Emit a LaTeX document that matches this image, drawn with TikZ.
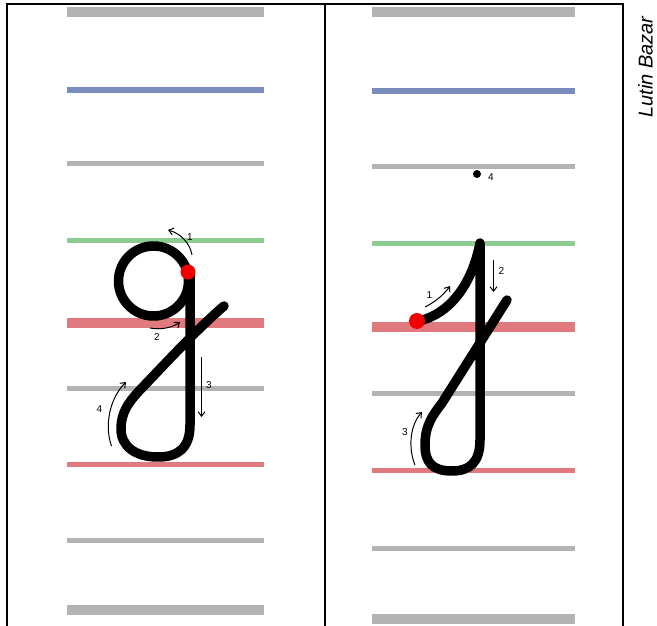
\documentclass[tikz,border=0pt]{standalone}
\usepackage{fontspec}
\setmainfont{Liberation Sans}
\usetikzlibrary{arrows.meta}
\definecolor{lgray}{RGB}{179,179,179}
\definecolor{lblue}{RGB}{122,139,190}
\definecolor{lgreen}{RGB}{140,204,144}
\definecolor{lred}{RGB}{224,122,126}
\definecolor{dotred}{RGB}{240,0,0}
\tikzset{
  frame/.style={line width=2pt, black},
  guide/.style={line width=#1},
  ink/.style={line width=9.5pt, line cap=round, line join=round, black},
  hint/.style={line width=1pt, -{Straight Barb[length=4.5pt,width=7pt]}},
  lbl/.style={font=\fontsize{10}{10}\selectfont, inner sep=0pt},
  startdot/.style={fill=dotred, draw=none},
}
\begin{document}
\begin{tikzpicture}[x=1pt,y=-1pt]
\useasboundingbox (0,0) rectangle (657,626);
\fill[white] (0,0) rectangle (657,626);
% frame
\draw[frame] (7,4) -- (623,4);
\draw[frame] (7,3) -- (7,626);
\draw[frame] (325,3) -- (325,626);
\draw[frame] (623,3) -- (623,626);
% left guides
\draw[lgray, guide=10pt] (67,12) -- (264,12);
\draw[lblue, guide=6pt] (67,90) -- (264,90);
\draw[lgray, guide=5pt] (67,164) -- (264,164);
\draw[lgreen, guide=5pt] (67,240) -- (264,240);
\draw[lred, guide=10pt] (67,322.5) -- (264,322.5);
\draw[lgray, guide=5pt] (67,388) -- (264,388);
\draw[lred, guide=5pt] (67,464) -- (264,464);
\draw[lgray, guide=5pt] (67,540) -- (264,540);
\draw[lgray, guide=10pt] (67,609.5) -- (264,609.5);
% right guides
\draw[lgray, guide=10pt] (372,12) -- (575,12);
\draw[lblue, guide=6pt] (372,91) -- (575,91);
\draw[lgray, guide=5pt] (372,166.5) -- (575,166.5);
\draw[lgreen, guide=5pt] (372,243) -- (575,243);
\draw[lred, guide=10pt] (372,327) -- (575,327);
\draw[lgray, guide=5pt] (372,393.5) -- (575,393.5);
\draw[lred, guide=5pt] (372,470.5) -- (575,470.5);
\draw[lgray, guide=5pt] (372,548) -- (575,548);
\draw[lgray, guide=10pt] (372,618.5) -- (575,618.5);
% left letter g
\draw[ink] (153.5,281) circle[radius=35];
\draw[ink] (190,272) -- (190,425)
  .. controls (190,448) and (178,457) .. (158,457)
  .. controls (135,457) and (121,446) .. (121,429)
  .. controls (121,413) and (128,403) .. (139,391)
  .. controls (165,364) and (196,330) .. (224,306);
\fill[startdot] (188,272) circle[radius=7.5];
% left hints
\draw[hint] (192,255) .. controls (190,244) and (182,234) .. (168,230);
\node[lbl] (g1) at (190,237) {1};
\draw[hint] (150,328) .. controls (160,330) and (172,328) .. (180,322);
\node[lbl] (g2) at (157,337.5) {2};
\draw[hint] (201.5,357) -- (201.5,417);
\node[lbl] (g3) at (209,385) {3};
\draw[hint] (111.5,446) .. controls (104,425) and (110,398) .. (126,382);
\node[lbl] (g4) at (99.5,409) {4};
% right letter
\draw[ink] (417,321) .. controls (440,318) and (470,295) .. (480,243)
  -- (480,440)
  .. controls (480,462) and (470,471) .. (452,471)
  .. controls (432,471) and (425,462) .. (425,445)
  .. controls (425,425) and (433,415) .. (442,403)
  -- (507,300);
\fill[startdot] (417,321) circle[radius=8];
\fill[black] (477,174) circle[radius=4];
% right hints
\draw[hint] (425,307) .. controls (433,303) and (443,296) .. (450,286);
\node[lbl] (j1) at (429.5,295) {1};
\draw[hint] (493.5,260) -- (493.5,292);
\node[lbl] (j2) at (501.5,271) {2};
\draw[hint] (415,465) .. controls (408,448) and (410,425) .. (422,412);
\node[lbl] (j3) at (405,432) {3};
\node[lbl] (j4) at (491,177) {4};
% credit
\node[rotate=90, inner sep=0pt, font=\fontsize{20}{20}\itshape\selectfont] (credit) at (645.5,67) {Lutin Bazar};
\end{tikzpicture}
\end{document}
